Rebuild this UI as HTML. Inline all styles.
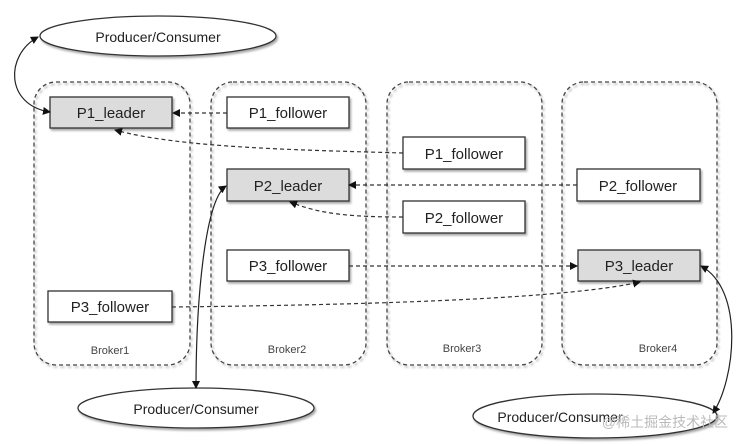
<!DOCTYPE html>
<html><head><meta charset="utf-8"><style>
html,body{margin:0;padding:0;background:#fff;}
svg{display:block;font-family:"Liberation Sans","Noto Sans CJK SC",sans-serif;}
</style></head><body>
<svg width="743" height="446" viewBox="0 0 743 446" xmlns="http://www.w3.org/2000/svg">
<defs>
<marker id="a" markerWidth="8" markerHeight="8" refX="7" refY="4" orient="auto" markerUnits="userSpaceOnUse"><path d="M0,0 L8,4 L0,8 z" fill="#111"/></marker>
<marker id="s" markerWidth="8" markerHeight="8" refX="1" refY="4" orient="auto" markerUnits="userSpaceOnUse"><path d="M8,0 L0,4 L8,8 z" fill="#111"/></marker>
<filter id="sh" x="-10%" y="-10%" width="130%" height="140%"><feDropShadow dx="1.5" dy="2" stdDeviation="1" flood-color="#000" flood-opacity="0.35"/></filter>
</defs>
<g fill="none" stroke="#444" stroke-width="1.3" stroke-dasharray="4,3" filter="url(#sh)">
<rect x="34" y="82" width="156" height="283" rx="22"/>
<rect x="211" y="82" width="155" height="283" rx="22"/>
<rect x="387" y="82" width="155" height="283" rx="22"/>
<rect x="562" y="82" width="155" height="283" rx="22"/>
</g>
<g font-size="11" fill="#444" text-anchor="middle">
<text x="110" y="354">Broker1</text><text x="287" y="353">Broker2</text>
<text x="462" y="352">Broker3</text><text x="658" y="352">Broker4</text>
</g>
<g stroke="#333" stroke-width="1.3" filter="url(#sh)">
<rect x="50" y="97" width="122" height="31" fill="#dcdcdc"/>
<rect x="227" y="97" width="122" height="31" fill="#fff"/>
<rect x="403" y="137" width="122" height="32" fill="#fff"/>
<rect x="227" y="169" width="122" height="32" fill="#dcdcdc"/>
<rect x="577" y="169" width="123" height="32" fill="#fff"/>
<rect x="403" y="201" width="122" height="32" fill="#fff"/>
<rect x="227" y="250" width="122" height="31" fill="#fff"/>
<rect x="578" y="250" width="122" height="31" fill="#dcdcdc"/>
<rect x="48" y="291" width="124" height="31" fill="#fff"/>
<ellipse cx="158" cy="36" rx="118" ry="20" fill="#fff"/>
<ellipse cx="196" cy="408" rx="118" ry="20" fill="#fff"/>
<ellipse cx="595" cy="416" rx="122" ry="22" fill="#fff"/>
</g>
<g font-size="15" fill="#222" text-anchor="middle">
<text x="111" y="118">P1_leader</text>
<text x="288" y="118">P1_follower</text>
<text x="464" y="159">P1_follower</text>
<text x="288" y="191">P2_leader</text>
<text x="638" y="191">P2_follower</text>
<text x="464" y="223">P2_follower</text>
<text x="288" y="271">P3_follower</text>
<text x="639" y="271">P3_leader</text>
<text x="110" y="312">P3_follower</text>
<text x="158" y="42" font-size="14">Producer/Consumer</text>
<text x="196" y="414" font-size="14">Producer/Consumer</text>
<text x="560" y="422" font-size="14">Producer/Consumer</text>
</g>
<text x="665" y="427" font-size="14" fill="#bbb" text-anchor="middle">@稀土掘金技术社区</text>
<g fill="none" stroke="#333" stroke-width="1.2" stroke-dasharray="4,3">
<path d="M227,113 L173,113" marker-end="url(#a)"/>
<path d="M403,153 C300,150 180,148 115,130" marker-end="url(#a)"/>
<path d="M577,185 L349,185" marker-end="url(#a)"/>
<path d="M403,217 C350,217 320,214 290,202" marker-end="url(#a)"/>
<path d="M349,266 L577,266" marker-end="url(#a)"/>
<path d="M172,307 C350,305 560,300 640,282" marker-end="url(#a)"/>
</g>
<g fill="none" stroke="#222" stroke-width="1.2">
<path d="M38,37 C5,55 5,105 50,112" marker-start="url(#s)" marker-end="url(#a)"/>
<path d="M226,186 C205,200 196,300 196,388" marker-start="url(#s)" marker-end="url(#a)"/>
<path d="M701,266 C745,290 735,380 713,413" marker-start="url(#s)" marker-end="url(#a)"/>
</g>
</svg>
</body></html>
